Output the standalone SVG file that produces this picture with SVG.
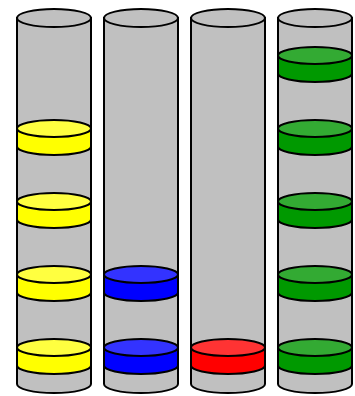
<svg xmlns="http://www.w3.org/2000/svg" width="355" height="396" viewBox="0 0 355 396">
<style>
path, ellipse { stroke: #000; stroke-width: 2; }
.tube { fill: #c0c0c0; }
.ys { fill: #ffff00; } .yt { fill: #ffff40; }
.bs { fill: #0000ff; } .bt { fill: #3333ff; }
.rs { fill: #ff0000; } .rt { fill: #ff3333; }
.gs { fill: #009900; } .gt { fill: #33aa33; }
</style>
<defs>
<path id="side" d="M-37,0 L-37,18 A37,8.5 0 0 0 37,18 L37,0 Z"/>
<ellipse id="top" cx="0" cy="0" rx="37" ry="8.5"/>
</defs>
<g id="peg1" transform="translate(54,0)">
<path class="tube" d="M-37,18 L-37,384 A37,9 0 0 0 37,384 L37,18 Z"/>
<ellipse class="tube" cx="0" cy="18" rx="37" ry="9"/>
</g>
<g id="peg2" transform="translate(141,0)">
<path class="tube" d="M-37,18 L-37,384 A37,9 0 0 0 37,384 L37,18 Z"/>
<ellipse class="tube" cx="0" cy="18" rx="37" ry="9"/>
</g>
<g id="peg3" transform="translate(228,0)">
<path class="tube" d="M-37,18 L-37,384 A37,9 0 0 0 37,384 L37,18 Z"/>
<ellipse class="tube" cx="0" cy="18" rx="37" ry="9"/>
</g>
<g id="peg4" transform="translate(315,0)">
<path class="tube" d="M-37,18 L-37,384 A37,9 0 0 0 37,384 L37,18 Z"/>
<ellipse class="tube" cx="0" cy="18" rx="37" ry="9"/>
</g>
<g id="yellow">
<g transform="translate(54,128.5)"><use href="#side" class="ys"/><use href="#top" class="yt"/></g>
<g transform="translate(54,201.5)"><use href="#side" class="ys"/><use href="#top" class="yt"/></g>
<g transform="translate(54,274.5)"><use href="#side" class="ys"/><use href="#top" class="yt"/></g>
<g transform="translate(54,347.5)"><use href="#side" class="ys"/><use href="#top" class="yt"/></g>
</g>
<g id="blue">
<g transform="translate(141,274.5)"><use href="#side" class="bs"/><use href="#top" class="bt"/></g>
<g transform="translate(141,347.5)"><use href="#side" class="bs"/><use href="#top" class="bt"/></g>
</g>
<g id="red">
<g transform="translate(228,347.5)"><use href="#side" class="rs"/><use href="#top" class="rt"/></g>
</g>
<g id="green">
<g transform="translate(315,55.5)"><use href="#side" class="gs"/><use href="#top" class="gt"/></g>
<g transform="translate(315,128.5)"><use href="#side" class="gs"/><use href="#top" class="gt"/></g>
<g transform="translate(315,201.5)"><use href="#side" class="gs"/><use href="#top" class="gt"/></g>
<g transform="translate(315,274.5)"><use href="#side" class="gs"/><use href="#top" class="gt"/></g>
<g transform="translate(315,347.5)"><use href="#side" class="gs"/><use href="#top" class="gt"/></g>
</g>
</svg>
